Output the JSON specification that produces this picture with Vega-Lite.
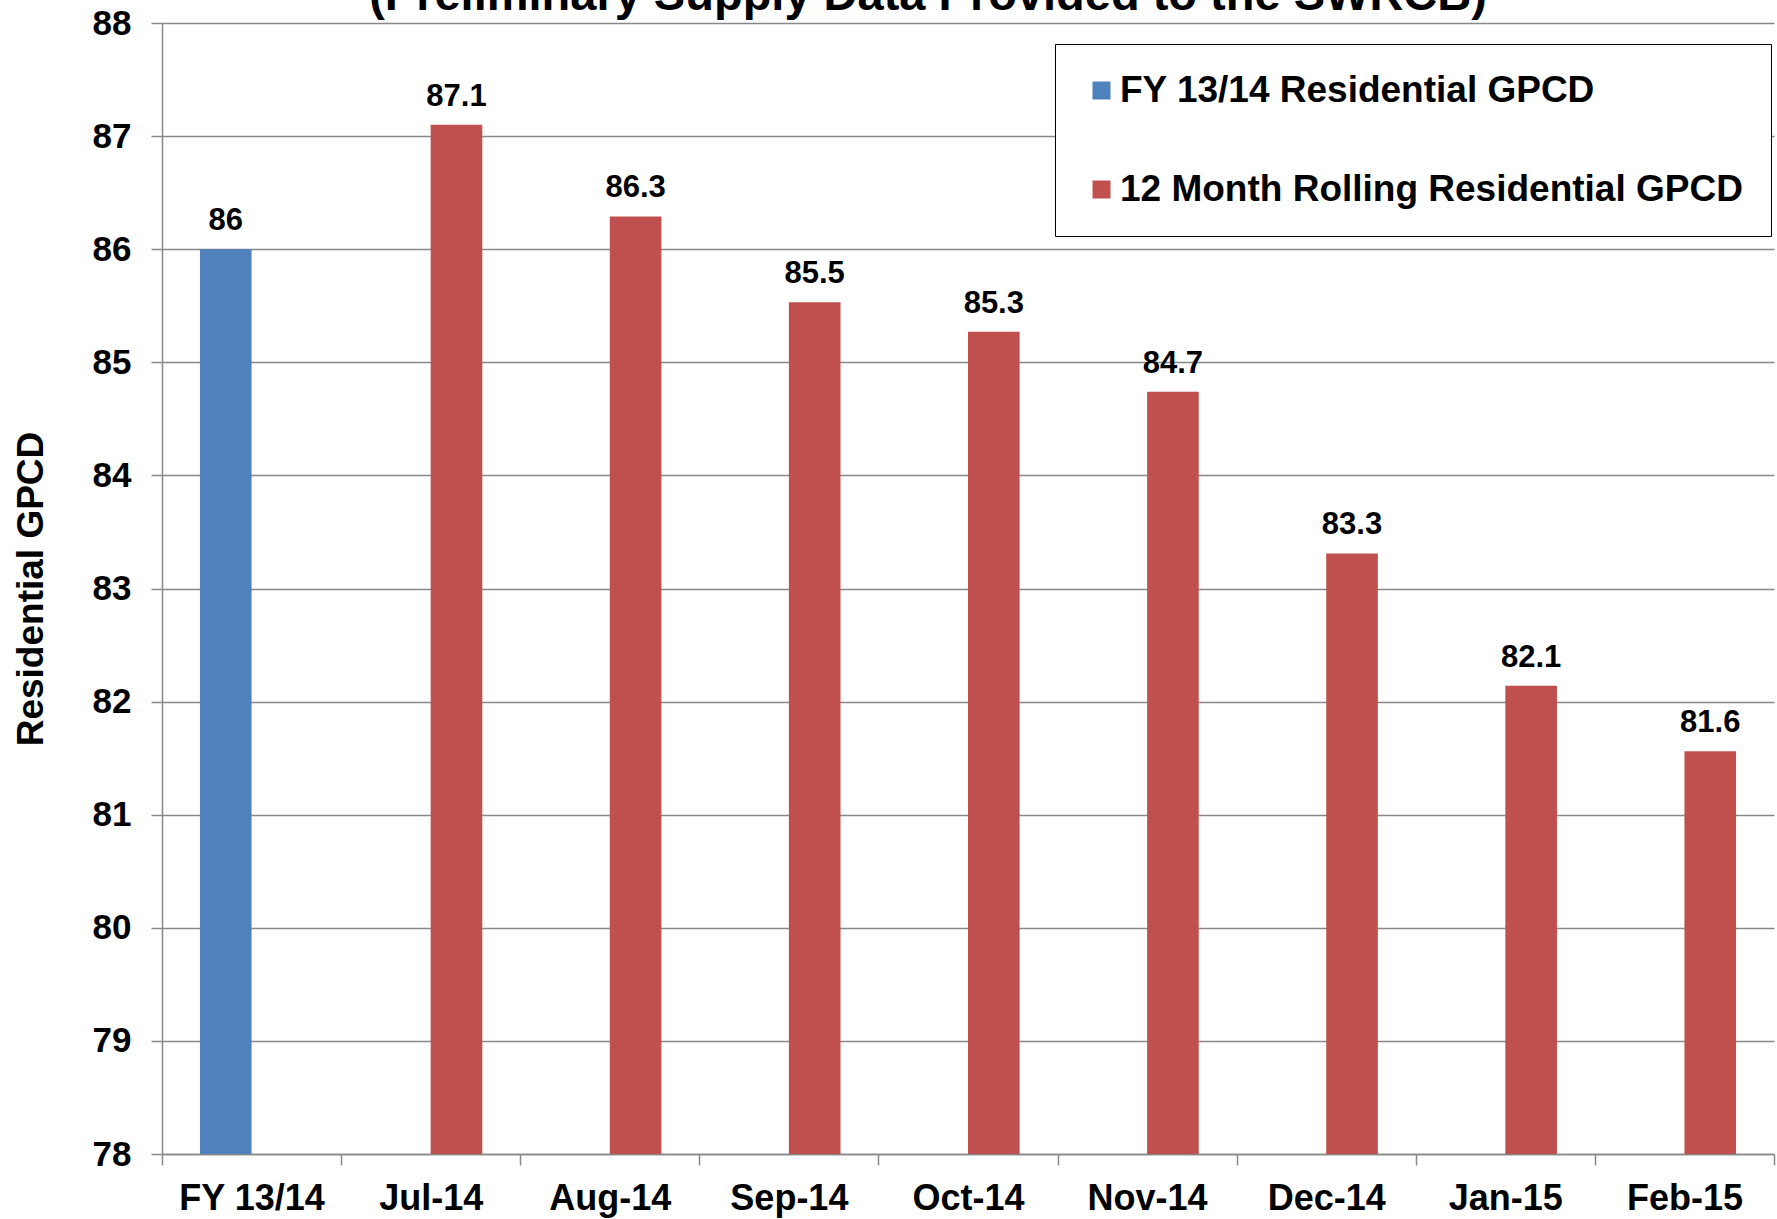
{
  "$schema": "https://vega.github.io/schema/vega-lite/v6.json",
  "autosize": "none",
  "width": 1612,
  "height": 1131,
  "padding": {"left": 162, "top": 23, "right": 3, "bottom": 65},
  "background": "white",
  "title": {
    "text": "(Preliminary Supply Data Provided to the SWRCB)",
    "fontSize": 47,
    "font": "Liberation Sans",
    "fontWeight": "bold",
    "color": "black",
    "anchor": "middle",
    "dx": -40,
    "dy": 14,
    "offset": 0
  },
  "config": {"view": {"stroke": null}, "font": "Liberation Sans"},
  "data": {
    "values": [
      {"month": "FY 13/14", "series": "FY 13/14 Residential GPCD", "value": 86.0, "label": "86"},
      {"month": "Jul-14", "series": "12 Month Rolling Residential GPCD", "value": 87.1, "label": "87.1"},
      {"month": "Aug-14", "series": "12 Month Rolling Residential GPCD", "value": 86.29, "label": "86.3"},
      {"month": "Sep-14", "series": "12 Month Rolling Residential GPCD", "value": 85.53, "label": "85.5"},
      {"month": "Oct-14", "series": "12 Month Rolling Residential GPCD", "value": 85.27, "label": "85.3"},
      {"month": "Nov-14", "series": "12 Month Rolling Residential GPCD", "value": 84.74, "label": "84.7"},
      {"month": "Dec-14", "series": "12 Month Rolling Residential GPCD", "value": 83.31, "label": "83.3"},
      {"month": "Jan-15", "series": "12 Month Rolling Residential GPCD", "value": 82.14, "label": "82.1"},
      {"month": "Feb-15", "series": "12 Month Rolling Residential GPCD", "value": 81.56, "label": "81.6"}
    ]
  },
  "encoding": {
    "x": {
      "field": "month",
      "type": "nominal",
      "sort": null,
      "scale": {"paddingInner": 0, "paddingOuter": 0},
      "axis": {
        "title": null,
        "labelAngle": 0,
        "tickBand": "extent",
        "tickSize": 11,
        "tickWidth": 1.5,
        "labelFontSize": 36,
        "labelFontWeight": "bold",
        "labelColor": "black",
        "labelFont": "Liberation Sans",
        "domainColor": "#888888",
        "domainWidth": 1.5,
        "tickColor": "#888888",
        "labelPadding": 16,
        "grid": false
      }
    },
    "xOffset": {
      "field": "series",
      "type": "nominal",
      "scale": {"domain": ["FY 13/14 Residential GPCD", "12 Month Rolling Residential GPCD"], "paddingInner": 0, "paddingOuter": 0.735}
    },
    "y": {
      "field": "value",
      "type": "quantitative",
      "scale": {"domain": [78, 88], "nice": false, "zero": false},
      "axis": {
        "title": "Residential GPCD",
        "titleFontSize": 37,
        "titleFontWeight": "bold",
        "titleFont": "Liberation Sans",
        "titleColor": "black",
        "titlePadding": 42,
        "values": [78, 79, 80, 81, 82, 83, 84, 85, 86, 87, 88],
        "grid": true,
        "gridColor": "#888888",
        "gridWidth": 1.5,
        "domainColor": "#888888",
        "domainWidth": 1.5,
        "tickColor": "#888888",
        "tickWidth": 1.5,
        "tickSize": 11,
        "labelFontSize": 35,
        "labelFontWeight": "bold",
        "labelFont": "Liberation Sans",
        "labelColor": "black",
        "labelPadding": 20
      }
    }
  },
  "layer": [
    {
      "mark": {"type": "bar", "clip": true},
      "encoding": {
        "color": {
          "field": "series",
          "type": "nominal",
          "scale": {"domain": ["FY 13/14 Residential GPCD", "12 Month Rolling Residential GPCD"], "range": ["#4F81BD", "#C0504D"]},
          "legend": {
            "orient": "none",
            "legendX": 893,
            "legendY": 21,
            "title": null,
            "strokeColor": "black",
            "fillColor": "white",
            "padding": 28,
            "symbolType": "square",
            "symbolSize": 324,
            "symbolStrokeWidth": 0,
            "symbolOpacity": 1,
            "labelFontSize": 37,
            "labelFontWeight": "bold",
            "labelFont": "Liberation Sans",
            "labelColor": "black",
            "labelOffset": 0,
            "labelLimit": 1000,
            "rowPadding": 61
          }
        }
      }
    },
    {
      "mark": {"type": "text", "baseline": "alphabetic", "dy": -19, "fontSize": 31, "fontWeight": "bold", "font": "Liberation Sans", "color": "black"},
      "encoding": {"text": {"field": "label"}}
    }
  ]
}
